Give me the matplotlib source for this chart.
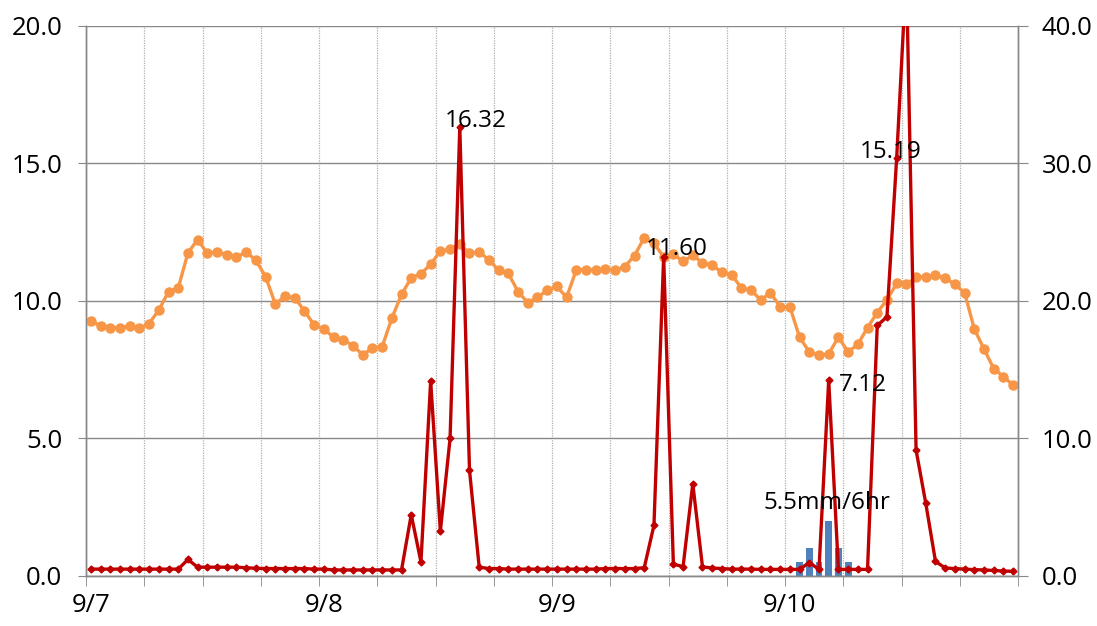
import numpy as np
import matplotlib.pyplot as plt
from matplotlib.ticker import FormatStrFormatter, FixedLocator

# hourly series, 9/7 00:00 .. 9/10 23:00 (96 points)
day_labels = ["9/7", "9/8", "9/9", "9/10"]

orange_vals = [
    9.28, 9.09, 9.03, 9.03, 9.09, 9.00, 9.18, 9.67, 10.34, 10.47, 11.75, 12.23,
    11.73, 11.79, 11.68, 11.60, 11.78, 11.48, 10.88, 9.89, 10.17, 10.12, 9.64, 9.13,
    8.98, 8.68, 8.58, 8.38, 8.04, 8.29, 8.33, 9.37, 10.24, 10.84, 10.99, 11.33,
    11.82, 11.88, 12.08, 11.73, 11.79, 11.49, 11.12, 11.00, 10.34, 9.94, 10.13, 10.39,
    10.53, 10.13, 11.13, 11.13, 11.13, 11.16, 11.13, 11.25, 11.65, 12.30, 12.10, 11.60,
    11.70, 11.44, 11.66, 11.39, 11.30, 11.04, 10.95, 10.48, 10.39, 10.04, 10.30, 9.79,
    9.79, 8.68, 8.15, 8.02, 8.08, 8.68, 8.15, 8.42, 9.03, 9.58, 10.04, 10.64,
    10.60, 10.87, 10.87, 10.93, 10.84, 10.60, 10.30, 8.98, 8.25, 7.54, 7.25, 6.93,
]

red_vals = [
    0.25, 0.25, 0.25, 0.25, 0.25, 0.25, 0.25, 0.25, 0.25, 0.25, 0.60, 0.32,
    0.32, 0.32, 0.32, 0.32, 0.30, 0.28, 0.27, 0.27, 0.27, 0.27, 0.27, 0.25,
    0.25, 0.22, 0.22, 0.22, 0.22, 0.22, 0.22, 0.22, 0.22, 2.23, 0.51, 7.09,
    1.63, 5.00, 16.32, 3.85, 0.32, 0.27, 0.27, 0.25, 0.25, 0.25, 0.25, 0.25,
    0.25, 0.25, 0.25, 0.25, 0.25, 0.27, 0.27, 0.27, 0.27, 0.30, 1.84, 11.60,
    0.43, 0.34, 3.35, 0.33, 0.29, 0.27, 0.25, 0.25, 0.25, 0.24, 0.24, 0.24,
    0.24, 0.24, 0.49, 0.24, 7.12, 0.24, 0.24, 0.24, 0.24, 9.11, 9.42, 15.19,
    22.0, 4.58, 2.64, 0.53, 0.29, 0.27, 0.25, 0.23, 0.22, 0.20, 0.18, 0.17,
]

rain_idx = [73, 74, 75, 76, 77, 78]
rain_vals = [0.5, 1.0, 0.5, 2.0, 1.0, 0.5]

x = np.arange(len(red_vals))

fig = plt.figure(figsize=(10.97, 6.26), dpi=100)
ax = fig.add_axes([0.0784, 0.0799, 0.8496, 0.8786])
ax2 = ax.twinx()

ax.bar(rain_idx, rain_vals, width=0.7, color="#4F81BD", zorder=2)
ax.plot(x, orange_vals, color="#F79646", lw=2.4, marker="o", ms=6.5, zorder=3)
ax.plot(x, red_vals, color="#C00000", lw=2.4, marker="D", ms=3.5, zorder=4)

ax.set_xlim(-0.5, len(x) - 0.5)
ax.set_ylim(0, 20)
ax2.set_ylim(0, 40)
ax.set_yticks([0, 5, 10, 15, 20])
ax2.set_yticks([0, 10, 20, 30, 40])
ax.yaxis.set_major_formatter(FormatStrFormatter("%.1f"))
ax2.yaxis.set_major_formatter(FormatStrFormatter("%.1f"))

ax.set_xticks([0, 24, 48, 72])
ax.set_xticklabels(day_labels)
ax.xaxis.set_minor_locator(FixedLocator(np.arange(-0.5, 96, 6)))
ax.tick_params(axis="x", which="major", length=0, pad=12)
ax.tick_params(axis="x", which="minor", length=7, color="#888888", direction="out")

font = "Open Sans"
for lab in ax.get_xticklabels() + ax.get_yticklabels() + ax2.get_yticklabels():
    lab.set_fontfamily(font)
    lab.set_fontsize(18.5)
ax.tick_params(axis="y", length=6, color="#888888", pad=11)
ax2.tick_params(axis="y", length=7, color="#888888", pad=10)

ax.grid(axis="y", color="#888888", lw=1.0)
ax.grid(axis="x", which="minor", color="#B0B0B0", lw=0.9, linestyle=(0, (1, 1)))
ax.set_axisbelow(True)

for a in (ax, ax2):
    for s in a.spines.values():
        s.set_color("#888888")
        s.set_linewidth(1.0)
    a.spines["top"].set_visible(False)

ann = dict(fontsize=17.5, fontfamily=font, textcoords="offset points", zorder=6)
ax.annotate("16.32", xy=(38, 16.32), xytext=(11.5, 0), ha="center", va="baseline", **ann)
ax.annotate("11.60", xy=(59, 11.60), xytext=(9.4, 1.4), ha="center", va="baseline", **ann)
ax.annotate("7.12", xy=(76, 7.12), xytext=(24.5, -8), ha="center", va="baseline", **ann)
ax.annotate("15.19", xy=(83, 15.19), xytext=(-4.3, 0), ha="center", va="baseline", **ann)
ax.annotate("5.5mm/6hr", xy=(76, 2.0), xytext=(-1, 8.6), ha="center", va="baseline", **ann)

fig.savefig("out.png", dpi=100)
